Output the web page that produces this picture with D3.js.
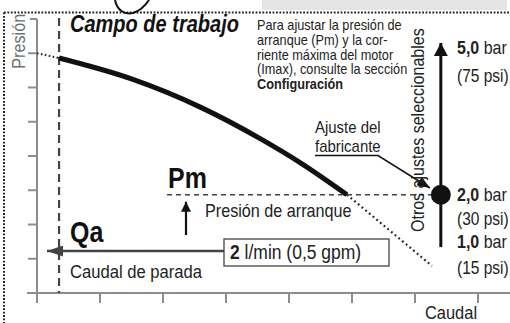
<!DOCTYPE html>
<html>
<head>
<meta charset="utf-8">
<script src="https://cdn.jsdelivr.net/npm/d3@7"></script>
<style>
  html, body { margin: 0; padding: 0; background: #fff; }
  svg { display: block; font-family: "Liberation Sans", Arial, sans-serif; }
</style>
</head>
<body>
<div id="viz"></div>
<script>
// --- data ---
const flowTicks = [0, 1, 2, 3, 4, 5, 6, 7];
const pressureTicks = [0, 1, 2, 3, 4, 5, 6, 7, 8];
const curveFlow = [0.35, 1.5, 2.6, 3.55, 4.2, 4.92];
const curvePressure = [6.86, 6.25, 5.42, 4.5, 3.78, 2.87];
const leftStubFlow = [0, 0.35];
const leftStubPressure = [7.0, 6.86];
const rightStubFlow = [4.92, 6.27];
const rightStubPressure = [2.87, 0.79];
const qaFlow = 0.35;        // caudal de parada
const pmPressure = 2.87;    // presión de arranque
const settingsFlow = 6.41;  // eje de ajustes seleccionables
const settingsLevels = [7.3, 2.87, 1.34];
const settingsBar = ["5,0", "2,0", "1,0"];
const settingsPsi = ["(75 psi)", "(30 psi)", "(15 psi)"];
const noteLines = ["Para ajustar la presión de", "arranque (Pm) y la cor-", "riente máxima del motor", "(Imax), consulte la sección"];
const noteBold = "Configuración";

const width = 510, height = 323;
const svg = d3.select('#viz').append('svg')
  .attr('width', width).attr('height', height)
  .attr('role', 'img')
  .attr('aria-label', 'Curva de presión-caudal con campo de trabajo');

const x = d3.scaleLinear().domain([0, 7]).range([37, 478]);
const y = d3.scaleLinear().domain([0, 8]).range([293, 19]);

// condensed text: no narrow face installed, so squeeze horizontally
const SX = 0.87;
function label(px, py, size, opts = {}) {
  const rot = opts.rotate ? ` rotate(${opts.rotate})` : '';
  return svg.append('text')
    .attr('transform', `translate(${px},${py})${rot} scale(${SX},1)`)
    .attr('font-size', size)
    .attr('fill', opts.fill || '#222')
    .attr('text-anchor', opts.anchor || 'start')
    .attr('font-weight', opts.bold ? 'bold' : null)
    .attr('font-style', opts.italic ? 'italic' : null);
}

const defs = svg.append('defs');
function marker(id, w, h, color) {
  defs.append('marker').attr('id', id)
    .attr('viewBox', `0 0 ${w} ${h}`).attr('refX', w).attr('refY', h / 2)
    .attr('markerWidth', w).attr('markerHeight', h).attr('markerUnits', 'userSpaceOnUse')
    .attr('orient', 'auto')
    .append('path').attr('d', `M0,0L${w},${h / 2}L0,${h}Z`).attr('fill', color);
}
marker('arrFab', 13, 10, '#111');
marker('arrTop', 13, 14, '#111');
marker('arrUp', 10, 10, '#111');
marker('arrQa', 16, 11, '#444');

// top decoration: grey band, dotted frame, doodle
svg.append('rect').attr('x', 262).attr('y', 0).attr('width', 245).attr('height', 10).attr('fill', '#e4e4e4');
svg.append('path').attr('d', 'M4,12.5H510M4,12.5V323')
  .attr('fill', 'none').attr('stroke', '#222').attr('stroke-width', 2).attr('stroke-dasharray', '1.8 1.6');
svg.append('path').attr('d', 'M115,0 C117,10 124,15 133,13 C140,11 145,6 149,0')
  .attr('fill', 'none').attr('stroke', '#111').attr('stroke-width', 2);

// axes
const axisColor = '#8c8c8c';
svg.append('line').attr('x1', x(0)).attr('x2', x(0)).attr('y1', y(8)).attr('y2', y(0) + 10)
  .attr('stroke', axisColor).attr('stroke-width', 2);
svg.append('line').attr('x1', 27).attr('x2', width).attr('y1', y(0)).attr('y2', y(0))
  .attr('stroke', axisColor).attr('stroke-width', 2);
svg.selectAll('.yt').data(pressureTicks.slice(1)).join('line').attr('class', 'yt')
  .attr('x1', d => d === 8 ? x(0) - 7 : x(0) - 9).attr('x2', x(0))
  .attr('y1', d => y(d)).attr('y2', d => y(d))
  .attr('stroke', axisColor).attr('stroke-width', 2);
svg.selectAll('.xt').data(flowTicks.slice(1)).join('line').attr('class', 'xt')
  .attr('x1', d => x(d)).attr('x2', d => x(d))
  .attr('y1', y(0)).attr('y2', y(0) + 10)
  .attr('stroke', axisColor).attr('stroke-width', 2);

label(24.5, y(7.35), 18.6, { rotate: -90, anchor: 'middle', fill: '#6e6e6e' }).text('Presión');
label(451, 319, 18.9, { anchor: 'middle' }).text('Caudal');

// stop flow dashed line
svg.append('line').attr('x1', x(qaFlow)).attr('x2', x(qaFlow)).attr('y1', y(8) - 1).attr('y2', y(0))
  .attr('stroke', '#444').attr('stroke-width', 2.2).attr('stroke-dasharray', '8 5');

// pump curve
const line = d3.line().x(d => x(d[0])).y(d => y(d[1])).curve(d3.curveMonotoneX);
const dotted = d3.line().x(d => x(d[0])).y(d => y(d[1]));
svg.append('path').datum(d3.zip(leftStubFlow, leftStubPressure)).attr('d', dotted)
  .attr('fill', 'none').attr('stroke', '#222').attr('stroke-width', 2).attr('stroke-dasharray', '1.6 2.4');
svg.append('path').datum(d3.zip(rightStubFlow, rightStubPressure)).attr('d', dotted)
  .attr('fill', 'none').attr('stroke', '#222').attr('stroke-width', 2.2).attr('stroke-dasharray', '1.8 3');
svg.append('path').datum(d3.zip(curveFlow, curvePressure)).attr('d', line)
  .attr('fill', 'none').attr('stroke', '#111').attr('stroke-width', 5);

// title + note
label(70, 32, 23, { bold: true, italic: true, fill: '#111' }).text('Campo de trabajo');
const note = label(257, 30, 14.6);
noteLines.forEach((t, i) => note.append('tspan').attr('x', 0).attr('dy', i === 0 ? 0 : 14.8).text(t));
note.append('tspan').attr('x', 0).attr('dy', 14.8).attr('font-weight', 'bold').text(noteBold);

// Pm annotation
svg.append('line').attr('x1', 167).attr('x2', x(settingsFlow) - 9).attr('y1', y(pmPressure)).attr('y2', y(pmPressure))
  .attr('stroke', '#444').attr('stroke-width', 1.6).attr('stroke-dasharray', '5 4');
label(168, 188, 28.7, { bold: true, fill: '#111' }).text('Pm');
svg.append('line').attr('x1', 186).attr('x2', 186).attr('y1', 235).attr('y2', y(pmPressure) + 7)
  .attr('stroke', '#111').attr('stroke-width', 2.2).attr('marker-end', 'url(#arrUp)');
label(205, 217, 18.6).text('Presión de arranque');

// Qa annotation
svg.append('line').attr('x1', 224).attr('x2', 47).attr('y1', 251).attr('y2', 251)
  .attr('stroke', '#444').attr('stroke-width', 2.4).attr('marker-end', 'url(#arrQa)');
svg.append('rect').attr('x', 224).attr('y', 239).attr('width', 165).attr('height', 27)
  .attr('fill', '#fff').attr('stroke', '#444').attr('stroke-width', 1.3);
const box = label(230, 258.5, 20.1);
box.append('tspan').attr('font-weight', 'bold').text('2');
box.append('tspan').text(' l/min (0,5 gpm)');
label(70, 242, 28.7, { bold: true, fill: '#111' }).text('Qa');
label(70, 278, 19.1).text('Caudal de parada');

// manufacturer setting
label(315, 132.5, 17.2).text('Ajuste del');
label(315, 151.5, 17.2).text('fabricante');
svg.append('path').attr('d', 'M315,155.5H378L430,188')
  .attr('fill', 'none').attr('stroke', '#111').attr('stroke-width', 1.5).attr('marker-end', 'url(#arrFab)');

// selectable settings axis
svg.append('line').attr('x1', x(settingsFlow)).attr('x2', x(settingsFlow))
  .attr('y1', y(settingsLevels[2])).attr('y2', y(settingsLevels[0]))
  .attr('stroke', '#111').attr('stroke-width', 3).attr('marker-end', 'url(#arrTop)');
svg.append('circle').attr('cx', x(settingsFlow)).attr('cy', y(pmPressure)).attr('r', 10).attr('fill', '#111');
label(424, 232, 18.4, { rotate: -90 }).text('Otros ajustes seleccionables');

const barDy = [10.6, 6, 0.5];
const psiDy = [39, 30.5, 27];
settingsLevels.forEach((lv, i) => {
  const t = label(457, y(lv) + barDy[i], 18.4);
  t.append('tspan').attr('font-weight', 'bold').text(settingsBar[i]);
  t.append('tspan').text(' bar');
  label(457, y(lv) + psiDy[i], 17.8).text(settingsPsi[i]);
});
</script>
</body>
</html>
